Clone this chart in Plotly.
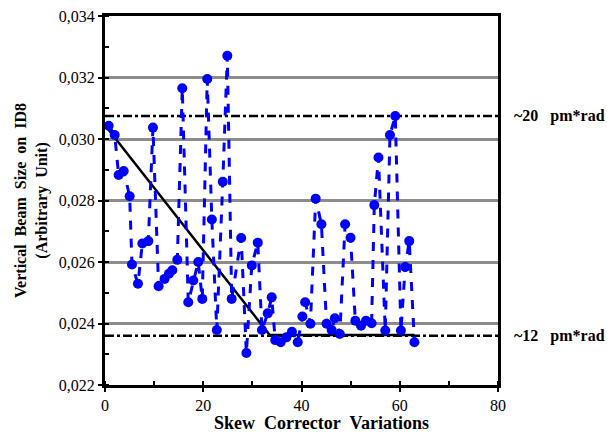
import plotly.graph_objects as go

# Measured beam size vs skew corrector variation
x_var = [0.75, 1.97, 2.78, 3.80, 5.02, 5.49, 6.71, 7.60, 8.82, 9.76,
         10.91, 12.13, 13.01, 13.70, 14.72, 15.73, 16.95, 17.97, 18.98, 19.80,
         20.81, 21.75, 22.76, 23.98, 24.90, 25.79, 27.72, 28.78, 29.88, 31.10,
         31.95, 33.13, 33.94, 34.65, 35.77, 36.93, 38.05, 39.23, 40.18, 40.75,
         41.81, 42.89, 44.05, 45.10, 46.14, 46.79, 47.80, 48.88, 49.98, 50.96,
         52.11, 53.13, 54.27, 54.82, 55.67, 57.05, 58.01, 59.09, 60.24, 61.12,
         61.93, 62.99]
beam_size = [0.03043, 0.03013, 0.02883, 0.02896, 0.02814, 0.02592, 0.02529, 0.02660, 0.02668, 0.03037,
             0.02521, 0.02545, 0.02562, 0.02573, 0.02607, 0.03165, 0.02469, 0.02540, 0.02600, 0.02480,
             0.03195, 0.02738, 0.02379, 0.02861, 0.03271, 0.02480, 0.02678, 0.02304, 0.02589, 0.02663,
             0.02379, 0.02433, 0.02485, 0.02346, 0.02339, 0.02355, 0.02373, 0.02339, 0.02423, 0.02469,
             0.02399, 0.02806, 0.02723, 0.02399, 0.02379, 0.02417, 0.02366, 0.02723, 0.02679, 0.02409,
             0.02393, 0.02409, 0.02401, 0.02785, 0.02940, 0.02377, 0.03013, 0.03075, 0.02377, 0.02584,
             0.02668, 0.02339]

# Trend line (linear decrease then plateau)
trend_x = [0, 33.5, 63]
trend_y = [0.03045, 0.02363, 0.02363]

# Reference emittance levels
level_labels = ["~20&nbsp;&nbsp;&nbsp;pm*rad", "~12&nbsp;&nbsp;&nbsp;pm*rad"]
level_values = [0.03075, 0.02360]

x_ticks = [0, 20, 40, 60, 80]
y_ticks = [0.022, 0.024, 0.026, 0.028, 0.030, 0.032, 0.034]

FONT = "'Liberation Serif', 'Times New Roman', serif"
SP = "&nbsp;&nbsp;"

fig = go.Figure()

for v in level_values:
    fig.add_trace(go.Scatter(
        x=[0, 80], y=[v, v], mode="lines",
        line=dict(color="black", width=2.5, dash="dashdot"),
        showlegend=False, hoverinfo="skip"))

fig.add_trace(go.Scatter(
    x=trend_x, y=trend_y, mode="lines",
    line=dict(color="black", width=2.5),
    showlegend=False))

fig.add_trace(go.Scatter(
    x=x_var, y=beam_size, mode="lines+markers",
    line=dict(color="#0000FF", width=3, dash="dash"),
    marker=dict(color="#0000FF", size=10),
    showlegend=False))

for lab, v in zip(level_labels, level_values):
    fig.add_annotation(
        x=1.035, xref="paper", y=v, yref="y", text="<b>%s</b>" % lab,
        showarrow=False, xanchor="left", yanchor="middle",
        font=dict(family=FONT, size=16, color="black"))

# x-axis title (placed slightly right of centre, as in the original)
fig.add_annotation(
    x=0.55, xref="paper", y=-0.104, yref="paper", yanchor="middle",
    text="<b>Skew" + SP + "Corrector" + SP + "Variations</b>",
    showarrow=False, font=dict(family=FONT, size=18, color="black"))

fig.update_layout(
    width=607, height=432,
    margin=dict(l=105, r=109, t=16, b=47),
    paper_bgcolor="white", plot_bgcolor="white",
    separators=",.",
    font=dict(family=FONT, size=15, color="black"),
    xaxis=dict(
        range=[0, 80], tickvals=x_ticks, ticks="outside", ticklen=4,
        tickwidth=1.5, tickcolor="black",
        minor=dict(dtick=10, ticks="inside", ticklen=4, tickcolor="black", tickwidth=1.5),
        showgrid=False, zeroline=False, automargin=False,
        showline=True, linecolor="black", linewidth=3, mirror=True,
        tickfont=dict(family=FONT, size=16),
    ),
    yaxis=dict(
        range=[0.022, 0.034], tickvals=y_ticks, tickformat=".3f",
        ticks="outside", ticklen=4, tickwidth=1.5, tickcolor="black",
        minor=dict(dtick=0.001, tick0=0.022, ticks="inside", ticklen=4,
                   tickcolor="black", tickwidth=1.5),
        showgrid=True, gridcolor="#8c8c8c", gridwidth=2.5,
        zeroline=False, automargin=False,
        showline=True, linecolor="black", linewidth=3, mirror=True,
        tickfont=dict(family=FONT, size=16),
        title=dict(text="<b>Vertical&nbsp;&nbsp;Beam&nbsp;&nbsp;Size&nbsp;&nbsp;on&nbsp;&nbsp;ID8<br>(Arbitrary&nbsp;&nbsp;Unit)</b>",
                   font=dict(family=FONT, size=16), standoff=8),
    ),
)

fig.write_html("out.html")
